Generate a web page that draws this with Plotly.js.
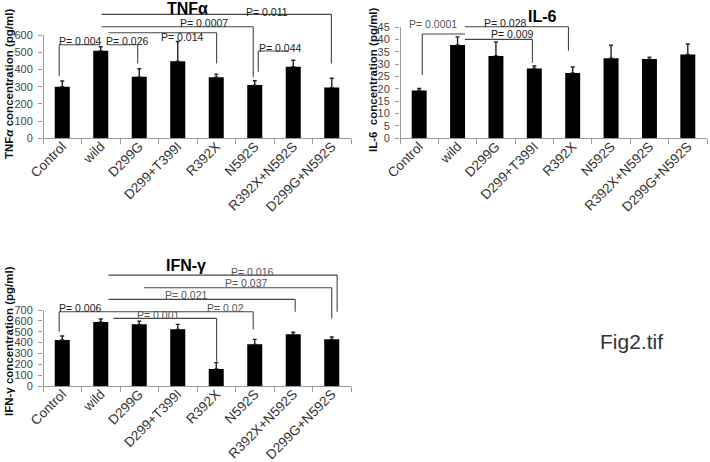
<!DOCTYPE html>
<html>
<head>
<meta charset="utf-8">
<script src="https://cdn.plot.ly/plotly-3.0.1.min.js"></script>
<style>html,body{margin:0;padding:0;background:#fff;}#chart{width:710px;height:462px;}</style>
</head>
<body>
<div id="chart"></div>
<script>
// ---- data ----
const categories = ["Control","wild","D299G","D299+T399I","R392X","N592S","R392X+N592S","D299G+N592S"];

const tnfMean = [300, 508, 357, 448, 355, 309, 416, 295];
const tnfErr  = [33, 24, 47, 114, 18, 25, 37, 54];
const tnfTicks = [0, 100, 200, 300, 400, 500, 600];
const tnfPLabels = ["P= 0.004","P= 0.026","P= 0.014","P= 0.0007","P= 0.011","P= 0.044"];

const il6Mean = [19.4, 37.8, 33.4, 28.3, 26.5, 32.5, 32.1, 34.0];
const il6Err  = [0.8, 3.3, 5.7, 1.0, 2.4, 5.2, 0.8, 4.2];
const il6Ticks = [0, 5, 10, 15, 20, 25, 30, 35, 40, 45];
const il6PLabels = ["P= 0.0001","P= 0.028","P= 0.009"];

const ifnMean = [424, 590, 568, 522, 157, 384, 476, 430];
const ifnErr  = [37, 27, 28, 46, 58, 46, 19, 22];
const ifnTicks = [0, 100, 200, 300, 400, 500, 600, 700];
const ifnPLabels = ["P= 0.006","P= 0.02","P= 0.001","P= 0.021","P= 0.037","P= 0.016"];

// ---- bracket geometry (layout styling, data units) ----
const tnfGeom = [
  {x0:-0.08, x1:0.98, y:543, left:362, tx:0.46, ty:565, c:'#222'},
  {x0:1.17, x1:1.96, y:543, right:435, tx:1.68, ty:565, c:'#222'},
  {x0:1.20, x1:4.01, y:613, right:435, tx:3.11, ty:590, c:'#222'},
  {x0:1.02, x1:4.96, y:648, right:354, tx:3.68, ty:668, c:'#222'},
  {x0:1.02, x1:6.99, y:720, right:435, tx:5.32, ty:735, c:'#222'},
  {x0:5.09, x1:5.87, y:507, left:387, tx:5.66, ty:526, c:'#222'}
];
const il6Geom = [
  {x0:0.08, x1:1.19, y:42.3, left:25.7, tx:0.37, ty:46.3, c:'#555'},
  {x0:1.19, x1:3.89, y:45.2, right:35.5, tx:2.24, ty:46.6, c:'#222'},
  {x0:1.19, x1:2.95, y:40.1, right:30.6, tx:2.41, ty:42.2, c:'#222'}
];
const ifnGeom = [
  {x0:-0.08, x1:1.2, y:684, left:500, tx:0.46, ty:721, c:'#222'},
  {x0:1.2, x1:4.96, y:684, right:520, tx:4.25, ty:720, c:'#555'},
  {x0:1.33, x1:4.01, y:623, right:225, tx:2.49, ty:654, c:'#555'},
  {x0:1.2, x1:6.05, y:798, right:684, tx:3.21, ty:838, c:'#555'},
  {x0:2.12, x1:7.0, y:905, right:623, tx:4.77, ty:946, c:'#555'},
  {x0:1.2, x1:7.14, y:1022, right:684, tx:4.92, ty:1052, c:'#555'}
];

const FONT = "Liberation Sans, Arial, sans-serif";
const LINEC = '#444';

function barTrace(mean, err, xa, ya) {
  return {
    type: 'bar', x: categories, y: mean, xaxis: xa, yaxis: ya,
    width: 0.39,
    marker: {color: '#000', line: {width: 0}},
    error_y: {type: 'data', symmetric: false, array: err,
              arrayminus: err.map(() => 0), color: '#222', thickness: 1.4, width: 2},
    hoverinfo: 'none', showlegend: false
  };
}

const shapes = [];
const annotations = [];

function addBrackets(geom, labels, xr, yr) {
  geom.forEach((g, i) => {
    const ln = {color: LINEC, width: 1.1};
    shapes.push({type:'line', xref:xr, yref:yr, x0:g.x0, x1:g.x1, y0:g.y, y1:g.y, line:ln});
    if (g.left !== undefined) shapes.push({type:'line', xref:xr, yref:yr, x0:g.x0, x1:g.x0, y0:g.y, y1:g.left, line:ln});
    if (g.right !== undefined) shapes.push({type:'line', xref:xr, yref:yr, x0:g.x1, x1:g.x1, y0:g.y, y1:g.right, line:ln});
    annotations.push({xref:xr, yref:yr, x:g.tx, y:g.ty, text:labels[i], showarrow:false,
      font:{family:FONT, size:10.5, color:g.c}, xanchor:'center', yanchor:'middle'});
  });
}
function addYLine(xr, yr, top) {
  shapes.push({type:'line', xref:xr, yref:yr, x0:-0.487, x1:-0.487, y0:0, y1:top,
    line:{color:'#999', width:1}});
}

addBrackets(tnfGeom, tnfPLabels, 'x', 'y');
addBrackets(il6Geom, il6PLabels, 'x2', 'y2');
addBrackets(ifnGeom, ifnPLabels, 'x3', 'y3');
addYLine('x', 'y', tnfTicks[tnfTicks.length-1]);
addYLine('x2', 'y2', il6Ticks[il6Ticks.length-1]);
addYLine('x3', 'y3', ifnTicks[ifnTicks.length-1]);

function paperText(x, y, text, size, bold, angle, color) {
  annotations.push({xref:'paper', yref:'paper', x:x/710, y:1 - y/462, text: bold ? '<b>'+text+'</b>' : text,
    showarrow:false, textangle: angle || 0, xanchor:'center', yanchor:'middle',
    font:{family:FONT, size:size, color:color || '#000'}});
}
paperText(187, 9, 'TNFα', 16, true);
paperText(542, 16, 'IL-6', 16, true);
paperText(186, 265, 'IFN-γ', 16, true);
paperText(9, 84, 'TNF<i>α</i> concentration (pg/ml)', 11.5, true, -90, '#111');
paperText(373, 80, 'IL-6  concentration (pg/ml)', 11.5, true, -90, '#111');
paperText(9, 341, 'IFN-γ concentration (pg/ml)', 11.5, true, -90, '#111');
paperText(631, 341, 'Fig2.tif', 21, false, 0, '#333');

function xAxis(domain, anchor) {
  return {domain: domain, anchor: anchor, type: 'category', range: [-0.5, 7.5],
    showline: true, linecolor: '#999', linewidth: 1, mirror: false,
    ticks: 'outside', tickson: 'boundaries', ticklen: 5, tickcolor: '#999', tickwidth: 1,
    ticklabelstandoff: -6,
    tickangle: -45, tickfont: {family: FONT, size: 13.5, color: '#333'},
    showgrid: false, zeroline: false, fixedrange: true, automargin: false};
}
function yAxis(domain, anchor, range, ticks) {
  return {domain: domain, anchor: anchor, range: range, tickmode: 'array', tickvals: ticks,
    showline: false, ticks: 'outside', ticklen: 4, tickcolor: '#999', tickwidth: 1,
    ticklabelstandoff: 3,
    tickfont: {family: FONT, size: 11, color: '#444'},
    showgrid: false, zeroline: false, fixedrange: true, automargin: false};
}

const layout = {
  width: 710, height: 462, autosize: false,
  margin: {l: 0, r: 0, t: 0, b: 0, pad: 0},
  paper_bgcolor: '#fff', plot_bgcolor: 'rgba(0,0,0,0)',
  showlegend: false, bargap: 0.6,
  xaxis: xAxis([43/710, 351/710], 'y'),
  yaxis: yAxis([1-138.3/462, 1-10.9/462], 'x', [0, 740], tnfTicks),
  xaxis2: xAxis([400/710, 707/710], 'y2'),
  yaxis2: yAxis([1-138.3/462, 1-19.9/462], 'x2', [0, 48], il6Ticks),
  xaxis3: xAxis([43/710, 351/710], 'y3'),
  yaxis3: yAxis([1-386/462, 1-268.8/462], 'x3', [0, 1080], ifnTicks),
  shapes: shapes,
  annotations: annotations
};

Plotly.newPlot('chart', [
  barTrace(tnfMean, tnfErr, 'x', 'y'),
  barTrace(il6Mean, il6Err, 'x2', 'y2'),
  barTrace(ifnMean, ifnErr, 'x3', 'y3')
], layout, {staticPlot: true, displayModeBar: false});
</script>
</body>
</html>
